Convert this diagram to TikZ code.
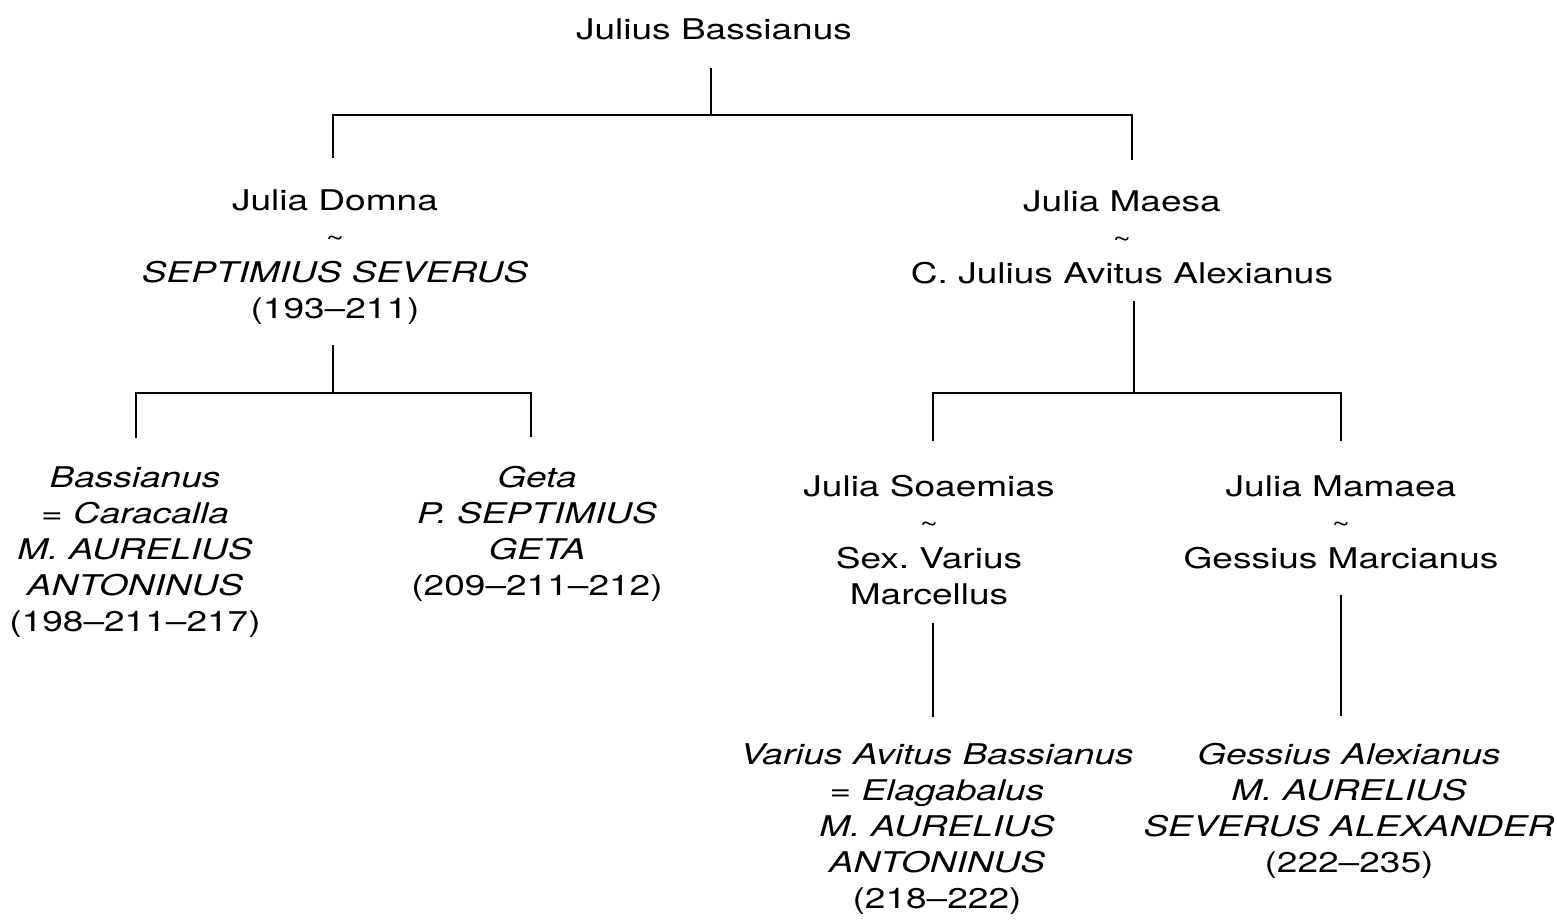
\documentclass[tikz,border=0pt]{standalone}
\usepackage{fontspec}
\setmainfont[FakeStretch=1.3]{TeX Gyre Heros}
\newcommand{\mytilde}{{\fontsize{24}{36}\selectfont\symbol{"7E}}}
\frenchspacing
\begin{document}
\begin{tikzpicture}[x=1pt,y=-1pt,
  person/.style={anchor=base,inner sep=0pt,outer sep=0pt,align=center,
    font=\fontsize{28.5}{36}\selectfont},
  link/.style={line width=1.7pt}]
\useasboundingbox[fill=white] (0,0) rectangle (1557,923);

% nodes (anchored at the baseline of their last line)
\node[person] (jb) at (714,40) {Julius Bassianus};
\node[person] (jd) at (335,318) {Julia Domna\\ \mytilde\\ \textit{SEPTIMIUS SEVERUS}\\ (193--211)};
\node[person] (jm) at (1122,283) {Julia Maesa\\ \mytilde\\ C. Julius Avitus Alexianus};
\node[person] (bas) at (135,631) {\textit{Bassianus}\\ \textit{= Caracalla}\\ \textit{M. AURELIUS}\\ \textit{ANTONINUS}\\ (198--211--217)};
\node[person] (geta) at (537,595) {\textit{Geta}\\ \textit{P. SEPTIMIUS}\\ \textit{GETA}\\ (209--211--212)};
\node[person] (js) at (929,604) {Julia Soaemias\\ \mytilde\\ Sex. Varius\\ Marcellus};
\node[person] (jmam) at (1341,568) {Julia Mamaea\\ \mytilde\\ Gessius Marcianus};
\node[person] (elag) at (937,908) {\textit{Varius Avitus Bassianus}\\ \textit{= Elagabalus}\\ \textit{M. AURELIUS}\\ \textit{ANTONINUS}\\ (218--222)};
\node[person] (gess) at (1349,872) {\textit{Gessius Alexianus}\\ \textit{M. AURELIUS}\\ \textit{SEVERUS ALEXANDER}\\ (222--235)};

% bar coordinates
\coordinate (bar1) at (711,115);
\coordinate (bar2) at (333,393);
\coordinate (bar3) at (1134,393);

% connectors
\draw[link,shorten <=27pt] (jb.south -| bar1) -- (bar1);
\draw[link,shorten <=31pt,shorten >=30pt] ([xshift=-2pt]jd.north) |- (bar1) -| ([xshift=10pt]jm.north);

\draw[link,shorten <=21pt] (jd.south -| bar2) -- (bar2);
\draw[link,shorten <=28.5pt,shorten >=28.5pt] ([xshift=1pt]bas.north) |- (bar2) -| ([xshift=-6pt]geta.north);

\draw[link,shorten <=17pt] (jm.south -| bar3) -- (bar3);
\draw[link,shorten <=34pt,shorten >=34pt] ([xshift=4pt]js.north) |- (bar3) -| (jmam.north);

\draw[link,shorten <=19pt,shorten >=26.5pt] ([xshift=4pt]js.south) -- ([xshift=-4pt]elag.north);
\draw[link,shorten <=26pt,shorten >=26.5pt] (jmam.south) -- ([xshift=-8pt]gess.north);
\end{tikzpicture}
\end{document}
